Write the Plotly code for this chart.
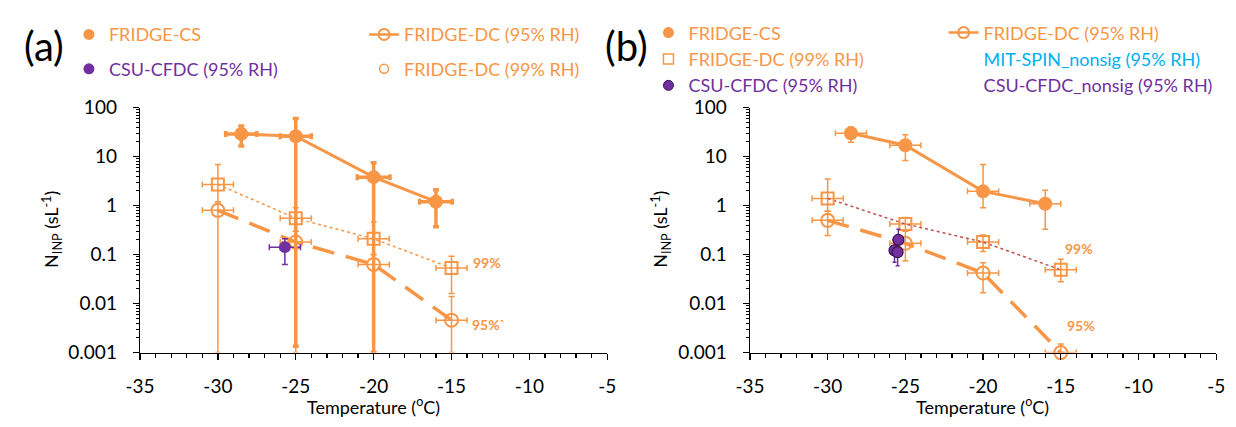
import plotly.graph_objects as go

# ---------------- data ----------------
# Panel (a)
a_cs_t = [-28.5, -25.0, -20.0, -16.0]
a_cs_n = [29, 26, 3.8, 1.2]
a_cs_up = [42, 60, 7.5, 2.1]
a_cs_lo = [16.5, 0.00135, 0.001, 0.37]
a_cs_terr = [1.0, 1.0, 1.05, 1.05]

a_dc99_t = [-30.0, -25.0, -20.0, -15.0]
a_dc99_n = [2.7, 0.55, 0.21, 0.053]
a_dc99_up = [6.9, 0.9, 0.46, 0.093]
a_dc99_lo = [1.2, 0.3, 0.1, 0.016]
a_dc99_terr = [1.0, 1.0, 1.0, 1.0]

a_dc95_t = [-30.0, -25.0, -20.0, -15.0]
a_dc95_n = [0.8, 0.18, 0.063, 0.0046]
a_dc95_up = [1.2, 0.3, 0.1, 0.014]
a_dc95_lo = [0.001, 0.001, 0.001, 0.001]
a_dc95_terr = [1.0, 1.0, 1.0, 1.0]

a_csu_t = [-25.7]
a_csu_n = [0.142]
a_csu_up = [0.21]
a_csu_lo = [0.063]
a_csu_terr = [1.0]

# Panel (b)
b_cs_t = [-28.5, -25.0, -20.0, -16.0]
b_cs_n = [30, 17, 1.95, 1.09]
b_cs_up = [40, 28, 6.9, 2.05]
b_cs_lo = [19.5, 8.3, 0.9, 0.33]
b_cs_terr = [1.0, 1.0, 1.0, 1.0]

b_dc99_t = [-30.0, -25.0, -20.0, -15.0]
b_dc99_n = [1.4, 0.42, 0.18, 0.049]
b_dc99_up = [3.5, 0.57, 0.25, 0.08]
b_dc99_lo = [0.77, 0.3, 0.115, 0.028]
b_dc99_terr = [1.0, 1.0, 1.0, 1.0]

b_dc95_t = [-30.0, -25.0, -20.0, -15.0]
b_dc95_n = [0.5, 0.17, 0.042, 0.001]
b_dc95_up = [0.77, 0.3, 0.068, 0.0015]
b_dc95_lo = [0.245, 0.075, 0.0166, 0.001]
b_dc95_terr = [1.0, 1.0, 1.0, 1.0]

b_csu_t = [-25.45, -25.7, -25.5]
b_csu_n = [0.20, 0.122, 0.112]
b_csu_up = [0.33, 0.2, 0.18]
b_csu_lo = [0.1, 0.07, 0.059]
b_csu_terr = [0.3, 0.3, 0.3]

x_tick_vals = [-35, -30, -25, -20, -15, -10, -5]
x_tick_text = ["-35", "-30", "-25", "-20", "-15", "-10", "-5"]
y_tick_vals = [0.001, 0.01, 0.1, 1, 10, 100]
y_tick_text = ["0.001", "0.01", "0.1", "1", "10", "100"]

# ---------------- styles ----------------
ORANGE = "#F79646"
PURPLE = "#7030A0"
DKPURPLE = "#3B1457"
CYAN = "#00B0F0"
DOTRED = "#C0504D"
FONT = "Lato"

fig = go.Figure()


def series(t, n, up, lo, terr, xa, ya, mode, marker, line=None,
           ethick=1.5, ewidth=3, ecolor=ORANGE):
    fig.add_trace(go.Scatter(
        x=t, y=n, mode=mode, marker=marker, line=line,
        xaxis=xa, yaxis=ya, showlegend=False, cliponaxis=False,
        error_y=dict(type="data", symmetric=False,
                     array=[u - v for u, v in zip(up, n)],
                     arrayminus=[v - l for v, l in zip(n, lo)],
                     thickness=ethick, width=ewidth, color=ecolor),
        error_x=dict(type="data", array=terr, thickness=ethick,
                     width=ewidth, color=ecolor),
    ))


open_circle = dict(symbol="circle-open", size=13, color=ORANGE, line=dict(width=2, color=ORANGE))
open_square = dict(symbol="square-open", size=12, color=ORANGE, line=dict(width=2, color=ORANGE))

# Panel (a)
series(a_dc99_t, a_dc99_n, a_dc99_up, a_dc99_lo, a_dc99_terr, "x", "y",
       "lines+markers", open_square, dict(color=ORANGE, width=1.5, dash="dot"))
series(a_dc95_t, a_dc95_n, a_dc95_up, a_dc95_lo, a_dc95_terr, "x", "y",
       "lines+markers", open_circle, dict(color=ORANGE, width=3.5, dash="22px,12px"))
series(a_csu_t, a_csu_n, a_csu_up, a_csu_lo, a_csu_terr, "x", "y",
       "markers", dict(size=12, color=PURPLE), ecolor=PURPLE)
series(a_cs_t, a_cs_n, a_cs_up, a_cs_lo, a_cs_terr, "x", "y",
       "lines+markers", dict(size=14, color=ORANGE), dict(color=ORANGE, width=3),
       ethick=3.5, ewidth=3)

# Panel (b)
series(b_dc99_t, b_dc99_n, b_dc99_up, b_dc99_lo, b_dc99_terr, "x2", "y2",
       "lines+markers", open_square, dict(color=DOTRED, width=1.5, dash="dot"))
series(b_dc95_t, b_dc95_n, b_dc95_up, b_dc95_lo, b_dc95_terr, "x2", "y2",
       "lines+markers", open_circle, dict(color=ORANGE, width=3.5, dash="22px,12px"))
series(b_csu_t, b_csu_n, b_csu_up, b_csu_lo, b_csu_terr, "x2", "y2",
       "markers", dict(size=11, color=PURPLE, line=dict(width=1.2, color=DKPURPLE)),
       ethick=1.5, ewidth=2, ecolor=PURPLE)
series(b_cs_t, b_cs_n, b_cs_up, b_cs_lo, b_cs_terr, "x2", "y2",
       "lines+markers", dict(size=14, color=ORANGE), dict(color=ORANGE, width=3),
       ethick=1.5, ewidth=3)


# ---------------- legends ----------------
def span(txt, col):
    return f"<span style='color:{col}'>{txt}</span>"


def leg_item(name, legend, mode, marker=None, line=None):
    fig.add_trace(go.Scatter(
        x=[None], y=[None], mode=mode, marker=marker, line=line, name=name,
        legend=legend, legendgroup=legend + name, showlegend=True,
        xaxis="x", yaxis="y"))


dot_or = dict(size=11, color=ORANGE)
leg_item(span("FRIDGE-CS", ORANGE), "legend", "markers", dot_or)
leg_item(span("CSU-CFDC (95% RH)", PURPLE), "legend", "markers", dict(size=11, color=PURPLE))
leg_item(span("FRIDGE-DC (95% RH)", ORANGE), "legend2", "lines+markers",
         dict(symbol="circle-open", size=11, color=ORANGE, line=dict(width=2)),
         dict(color=ORANGE, width=2.5))
leg_item(span("FRIDGE-DC (99% RH)", ORANGE), "legend2", "markers",
         dict(symbol="circle-open", size=9, color=ORANGE, line=dict(width=1.5)))

leg_item(span("FRIDGE-CS", ORANGE), "legend3", "markers", dot_or)
leg_item(span("FRIDGE-DC (99% RH)", ORANGE), "legend3", "markers",
         dict(symbol="square-open", size=10, color=ORANGE, line=dict(width=1.5)))
leg_item(span("CSU-CFDC (95% RH)", PURPLE), "legend3", "markers",
         dict(size=10, color=PURPLE, line=dict(width=1, color=DKPURPLE)))
leg_item(span("FRIDGE-DC (95% RH)", ORANGE), "legend4", "lines+markers",
         dict(symbol="circle-open", size=11, color=ORANGE, line=dict(width=2)),
         dict(color=ORANGE, width=2.5))
leg_item(span("MIT-SPIN_nonsig (95% RH)", CYAN), "legend4", "markers",
         dict(size=1, color="rgba(0,0,0,0)"))
leg_item(span("CSU-CFDC_nonsig (95% RH)", PURPLE), "legend4", "markers",
         dict(size=1, color="rgba(0,0,0,0)"))

W, H = 1236, 427


def px(v):
    return v / W


def py(v):
    return 1 - v / H


leg_common = dict(bgcolor="rgba(0,0,0,0)", borderwidth=0, orientation="v",
                  font=dict(family=FONT, size=18), xanchor="left", yanchor="top",
                  itemclick=False, itemdoubleclick=False)

# ---------------- axes ----------------
xa_common = dict(range=[-35, -5], tickmode="array", tickvals=x_tick_vals, ticktext=x_tick_text,
                 ticks="outside", ticklen=6, tickwidth=1.3, tickcolor="black",
                 showline=True, linecolor="black", linewidth=1.3,
                 showgrid=False, zeroline=False,
                 minor=dict(ticks="outside", tick0=-35, dtick=1, ticklen=4, tickwidth=1.3,
                            tickcolor="black", showgrid=False),
                 tickfont=dict(family=FONT, size=19, color="black"), ticklabelstandoff=10)
ya_common = dict(type="log", range=[-3, 2], tickmode="array", tickvals=y_tick_vals,
                 ticktext=y_tick_text, ticks="outside", ticklen=6, tickwidth=1.3,
                 tickcolor="black", showline=True, linecolor="black", linewidth=1.3,
                 showgrid=False, zeroline=False,
                 minor=dict(ticks="outside", dtick="D1", ticklen=3, tickwidth=1,
                            tickcolor="black", showgrid=False),
                 tickfont=dict(family=FONT, size=19, color="black"),
                 ticklabelstandoff=12, domain=[1 - 360 / H, 1 - 101 / H])

xa = dict(xa_common, domain=[px(127.5), px(604)], anchor="y")
xb = dict(xa_common, domain=[px(749.5), px(1225)], anchor="y2")
ya = dict(ya_common, anchor="x")
yb = dict(ya_common, anchor="x2")

ann = []
lab = dict(showarrow=False, font=dict(family=FONT, size=14, color=ORANGE))
ann.append(dict(lab, text="<b>99%</b>", x=-12.7, y=-1.17, xref="x", yref="y"))
ann.append(dict(lab, text="<b>95%`</b>", x=-12.6, y=-2.43, xref="x", yref="y"))
ann.append(dict(lab, text="<b>99%</b>", x=-13.8, y=-0.87, xref="x2", yref="y2"))
ann.append(dict(lab, text="<b>95%</b>", x=-13.7, y=-2.44, xref="x2", yref="y2"))

big = dict(showarrow=False, xref="paper", yref="paper", font=dict(family=FONT, size=40, color="black"),
           xanchor="center", yanchor="middle")
ann.append(dict(big, text="(a)", x=px(30), y=py(36)))
ann.append(dict(big, text="(b)", x=px(624), y=py(36)))

ttl = dict(showarrow=False, xref="paper", yref="paper", font=dict(family=FONT, size=18, color="black"),
           xanchor="center", yanchor="middle")
ann.append(dict(ttl, text="Temperature (<sup>o</sup>C)", x=px(366), y=py(416)))
ann.append(dict(ttl, text="Temperature (<sup>o</sup>C)", x=px(987), y=py(416)))
ann.append(dict(ttl, text="N<sub>INP</sub> (sL<sup>-1</sup>)", textangle=-90, x=px(37), y=py(230)))
ann.append(dict(ttl, text="N<sub>INP</sub> (sL<sup>-1</sup>)", textangle=-90, x=px(658), y=py(230)))

fig.update_layout(
    width=W, height=H, margin=dict(l=0, r=0, t=0, b=0),
    paper_bgcolor="white", plot_bgcolor="white",
    font=dict(family=FONT, size=18, color="black"),
    xaxis=xa, xaxis2=xb, yaxis=ya, yaxis2=yb,
    annotations=ann,
    legend=dict(leg_common, x=px(55), y=py(4.5), tracegroupgap=8),
    legend2=dict(leg_common, x=px(356), y=py(4.5), tracegroupgap=8),
    legend3=dict(leg_common, x=px(646), y=py(2.5), tracegroupgap=0),
    legend4=dict(leg_common, x=px(947), y=py(2.5), tracegroupgap=0),
)

fig.write_html("out.html",
               config=dict(displayModeBar=False, staticPlot=True),
               post_script="document.body.style.margin='0';document.body.style.overflow='hidden';")
